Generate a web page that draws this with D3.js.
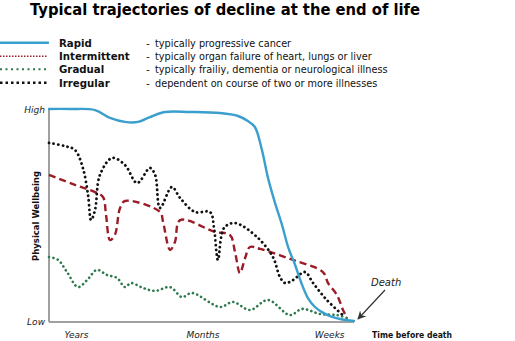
<!DOCTYPE html>
<html><head><meta charset="utf-8">
<script src="https://cdn.jsdelivr.net/npm/d3@7"></script>
<style>html,body{margin:0;padding:0;background:#fff;}svg{display:block;}</style>
</head><body>
<svg id="c" width="515" height="341"></svg>
<script>
// ---- data ----
const title = "Typical trajectories of decline at the end of life";
const seriesNames = ["Rapid", "Intermittent", "Gradual", "Irregular"];
const seriesDesc = [
  "typically progressive cancer",
  "typically organ failure of heart, lungs or liver",
  "typically frailiy, dementia or neurological illness",
  "dependent on course of two or more illnesses"
];
const xTickLabels = ["Years", "Months", "Weeks"];
const xTickPos = [9, 50.5, 92];
const yTickLabels = ["Low", "High"];
const yTickPos = [0, 100];

const rapidT = [0,6.9,15.1,20,24.9,29.2,33.1,38,46.2,56.1,62,65.2,67.5,69.8,71.8,74.1,76.4,78.4,80.7,82.6,84.9,87.2,89.5,92.8,96.1,100];
const rapidV = [100,100,99.5,95.8,93.9,93.9,96.2,98.6,98.6,98.1,96.7,94.3,91.5,80.7,67.5,55.7,45.3,34.9,26.4,18.5,10.8,6.6,4.2,1.9,0.7,0];

const interT = [0,8.5,15.1,17.7,18.7,20,21.6,23.3,24.9,36.4,37.4,39.7,41.3,43,54.4,59.3,61,62.6,64.3,65.9,69.2,80,89.8,91.5,94.4,96.4,97.7];
const interV = [68.9,64.2,60.8,58.5,50,38.2,40.6,53.3,56.6,51.4,46.7,33.5,37.3,47.6,42,40.6,32.5,22.6,29.7,34.9,34,28.8,23.1,17.9,12.3,5.2,1.4];

const gradT = [0,3,5.9,9.5,12.5,15.7,19,22.3,24.9,26.9,30.8,34.8,39.7,43.6,46.9,56.1,60.3,65.9,71.8,79,83,88.9,94.4,97.7];
const gradV = [30.2,28.8,23.1,16,19.3,24.1,21.7,20.3,16,17.9,15.6,14.2,16,11.3,13.2,6.6,9,5.2,9.9,2.8,5.7,3.3,2.8,1.4];

const irregT = [0,5.2,8.5,11.1,12.8,13.8,15.1,16.7,20.7,24.9,28.9,33.1,34.8,36.4,40.3,43,47.9,52.8,54.1,55.4,57.4,61,68.2,73.4,75.7,77.4,80,83.9,86.6,91.1,97];
const irregV = [84,82.5,80.7,72.2,59.4,47.6,52.4,68.9,76.9,73.6,65.1,72.2,68.9,53.3,63.2,58,51.4,51.4,43.9,28.8,43.9,46.2,39.6,30.2,20.8,17.9,19.3,23.1,17.9,9.9,1.9];

// ---- drawing ----
const svg = d3.select("#c");
const x = d3.scaleLinear().domain([0,100]).range([49,354]);
const y = d3.scaleLinear().domain([0,100]).range([321,109]);

const blue = "#3a9fcd", red = "#9b1c27", green = "#2e7a4e", black = "#111";
const styles = [
  {color: blue, dash: null, width: 2.4, cap: "round"},
  {color: red, dash: "7,4", width: 2.4, cap: "butt"},
  {color: green, dash: "0.1,4.4", width: 2.6, cap: "round"},
  {color: black, dash: "0.1,4.6", width: 2.8, cap: "round"}
];
const legendStyles = [
  {color: blue, dash: null, width: 2.4, cap: "round"},
  {color: red, dash: "1.5,1.5", width: 1.6, cap: "butt"},
  {color: green, dash: "2,3.5", width: 2, cap: "butt"},
  {color: black, dash: "2.5,3", width: 2.6, cap: "butt"}
];

// title
svg.append("text").attr("x", 30).attr("y", 15)
  .attr("font-family", "DejaVu Sans").attr("font-weight", "bold")
  .attr("font-size", 16).attr("textLength", 390).attr("lengthAdjust", "spacingAndGlyphs")
  .attr("fill", "#000").text(title);

// legend
const legY = [42.7, 56.3, 69.3, 82.7];
seriesNames.forEach((n, i) => {
  const s = legendStyles[i];
  svg.append("line").attr("x1", 0).attr("x2", 48).attr("y1", legY[i]).attr("y2", legY[i])
    .attr("stroke", s.color).attr("stroke-width", s.width)
    .attr("stroke-dasharray", s.dash).attr("stroke-linecap", s.cap);
  svg.append("text").attr("x", 59).attr("y", legY[i] + 4)
    .attr("font-family", "DejaVu Sans").attr("font-weight", "bold").attr("font-size", 10.2)
    .attr("fill", "#111").text(n);
  svg.append("text").attr("x", 146).attr("y", legY[i] + 4)
    .attr("font-family", "DejaVu Sans").attr("font-size", 10.5).attr("fill", "#111").text("-");
  svg.append("text").attr("x", 155).attr("y", legY[i] + 4)
    .attr("font-family", "DejaVu Sans Condensed, DejaVu Sans").attr("font-size", 10.8).attr("fill", "#111").text(seriesDesc[i]);
});

// axes
svg.append("line").attr("x1", x(0)).attr("x2", x(0)).attr("y1", y(100)).attr("y2", y(0) + 1)
  .attr("stroke", "#a0a0a0").attr("stroke-width", 2);
svg.append("line").attr("x1", x(0)).attr("x2", x(100)).attr("y1", y(0) + 1).attr("y2", y(0) + 1)
  .attr("stroke", "#a0a0a0").attr("stroke-width", 2);

yTickLabels.forEach((t, i) => {
  svg.append("text").attr("x", 45).attr("y", y(yTickPos[i]) + 3.5).attr("text-anchor", "end")
    .attr("font-family", "DejaVu Sans").attr("font-style", "italic").attr("font-size", 9)
    .attr("fill", "#222").text(t);
});
xTickLabels.forEach((t, i) => {
  svg.append("text").attr("x", x(xTickPos[i])).attr("y", 338).attr("text-anchor", "middle")
    .attr("font-family", "DejaVu Sans").attr("font-style", "italic").attr("font-size", 9)
    .attr("fill", "#222").text(t);
});
svg.append("text").attr("x", 372).attr("y", 338)
  .attr("font-family", "DejaVu Sans").attr("font-weight", "bold").attr("font-size", 9)
  .attr("textLength", 80).attr("lengthAdjust", "spacingAndGlyphs")
  .attr("fill", "#111").text("Time before death");
svg.append("text").attr("transform", "translate(39,216) rotate(-90)").attr("text-anchor", "middle")
  .attr("font-family", "DejaVu Sans").attr("font-weight", "bold").attr("font-size", 8.5)
  .attr("fill", "#111").text("Physical Wellbeing");

// series
const line = d3.line().x(d => x(d[0])).y(d => y(d[1])).curve(d3.curveCatmullRom.alpha(0.5));
const seriesData = [
  d3.zip(rapidT, rapidV), d3.zip(interT, interV), d3.zip(gradT, gradV), d3.zip(irregT, irregV)
];
[2, 1, 3, 0].forEach(i => {
  const s = styles[i];
  svg.append("path").attr("d", line(seriesData[i])).attr("fill", "none")
    .attr("stroke", s.color).attr("stroke-width", s.width)
    .attr("stroke-dasharray", s.dash).attr("stroke-linecap", s.cap).attr("stroke-linejoin", "round");
});

// death annotation
const defs = svg.append("defs");
defs.append("marker").attr("id", "arr").attr("viewBox", "0 0 10 10").attr("refX", 9).attr("refY", 5)
  .attr("markerWidth", 7).attr("markerHeight", 7).attr("orient", "auto")
  .append("path").attr("d", "M0,0L10,5L0,10L3,5Z").attr("fill", "#333");
svg.append("line").attr("x1", 385).attr("y1", 290).attr("x2", 358).attr("y2", 319)
  .attr("stroke", "#333").attr("stroke-width", 1.2).attr("marker-end", "url(#arr)");
svg.append("text").attr("x", 371).attr("y", 286)
  .attr("font-family", "DejaVu Sans").attr("font-style", "italic").attr("font-size", 10)
  .attr("fill", "#222").text("Death");
</script>
</body></html>
